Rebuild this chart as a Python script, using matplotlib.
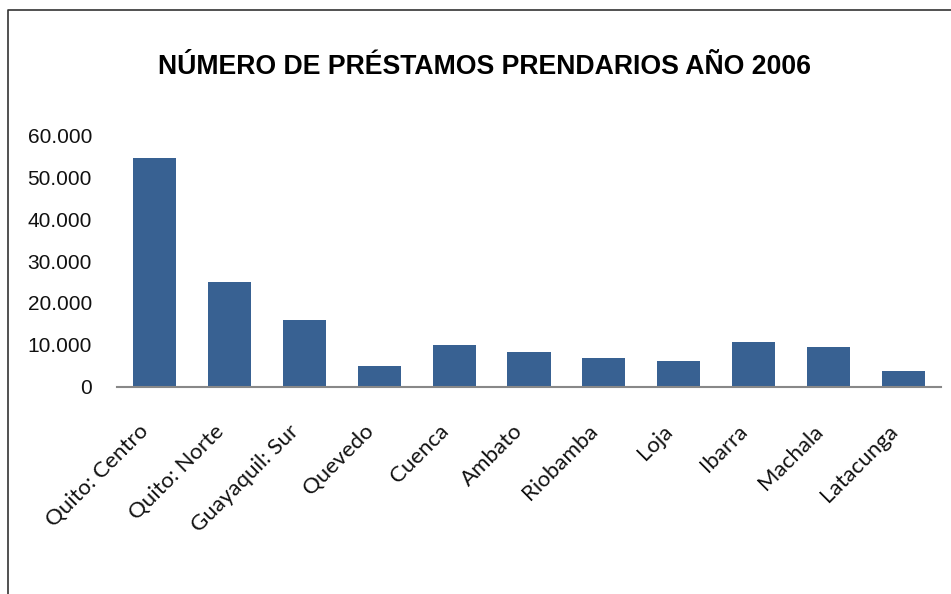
import matplotlib.pyplot as plt
from matplotlib.lines import Line2D
from matplotlib.ticker import FuncFormatter
from matplotlib.transforms import offset_copy

#####################################################################################
oficinas = [
    "Quito: Centro", "Quito: Norte", "Guayaquil: Sur", "Quevedo", "Cuenca",
    "Ambato", "Riobamba", "Loja", "Ibarra", "Machala", "Latacunga",
]
prestamos = [54500, 25000, 16000, 5000, 10000, 8300, 6900, 6200, 10700, 9500, 3800]
y_ticks = [0, 10000, 20000, 30000, 40000, 50000, 60000]

titulo = "NÚMERO DE PRÉSTAMOS PRENDARIOS AÑO 2006"

#####################################################################################
fig = plt.figure(figsize=(9.51, 5.94), dpi=100)
ax = fig.add_axes([0.123, 0.3485, 0.8665, 0.4242])

x = list(range(len(oficinas)))
ax.bar(x, prestamos, width=0.575, color="#386192", zorder=2)

# ---------------------------------------------------------------------------
ax.set_xlim(-0.5, len(oficinas) - 0.5)
ax.set_ylim(0, 60000)
ax.set_yticks(y_ticks)
ax.yaxis.set_major_formatter(
    FuncFormatter(lambda v, _: f"{int(v):,}".replace(",", "."))
)
ax.tick_params(axis="y", length=0, pad=18, labelsize=15)
for lbl in ax.get_yticklabels():
    lbl.set_fontfamily("Liberation Sans")
    lbl.set_color("#111111")

# category labels: rotated 45 deg, end just left of / below each bar
ax.set_xticks(x)
ax.set_xticklabels([])
ax.tick_params(axis="x", length=0)
label_trans = offset_copy(ax.get_xaxis_transform(), fig=fig, x=-16, y=-34,
                          units="dots")
for i, name in zip(x, oficinas):
    ax.text(i, 0, name, transform=label_trans, rotation=45, ha="right",
            va="top", rotation_mode="anchor", fontsize=16, family="Lato",
            color="#111111", clip_on=False)

for side in ["top", "right", "left"]:
    ax.spines[side].set_visible(False)
ax.spines["bottom"].set_color("#888888")
ax.spines["bottom"].set_linewidth(1.5)

# ---------------------------------------------------------------------------
fig.text(0.509, 0.887, titulo, ha="center", va="center", fontsize=19.2,
         fontweight="bold", family="Liberation Sans")

# chart border (left and top edges visible)
fig.add_artist(Line2D([0.0084, 0.0084, 1.0], [0.0, 0.983, 0.983],
                      color="#333333", linewidth=1.2))

fig.savefig("out.png", dpi=100)
